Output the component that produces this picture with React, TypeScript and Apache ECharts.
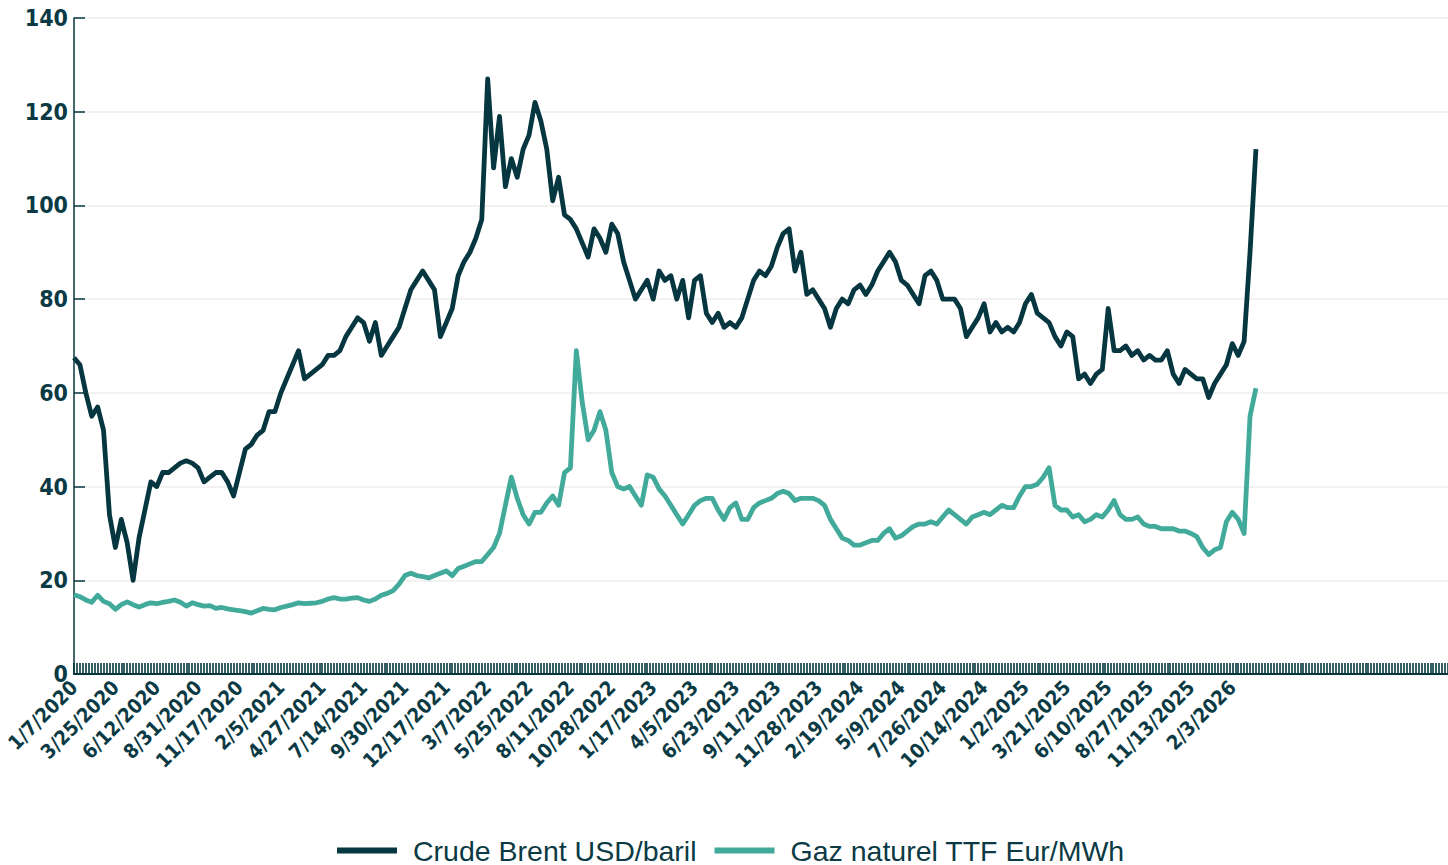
import React, { useEffect, useRef } from "react";
import * as echarts from "echarts";

// Visible tick labels of the category axis (one every LABEL_STEP trading days)
const labelDates = [
  "1/7/2020", "3/25/2020", "6/12/2020", "8/31/2020", "11/17/2020", "2/5/2021",
  "4/27/2021", "7/14/2021", "9/30/2021", "12/17/2021", "3/7/2022", "5/25/2022",
  "8/11/2022", "10/28/2022", "1/17/2023", "4/5/2023", "6/23/2023", "9/11/2023",
  "11/28/2023", "2/19/2024", "5/9/2024", "7/26/2024", "10/14/2024", "1/2/2025",
  "3/21/2025", "6/10/2025", "8/27/2025", "11/13/2025", "2/3/2026",
];
const LABEL_STEP = 56; // trading days between two visible labels
const SAMPLE_STEP = 8; // trading days between two read values
const CATEGORY_COUNT = 1861; // axis length (rows of the sheet, incl. empty ones)

// Crude Brent USD/baril, one value every SAMPLE_STEP trading days from 1/7/2020
const brent = [
  67.5, 66, 60, 55, 57, 52, 34, 27, 33, 28,
  20, 29, 35, 41, 40, 43, 43, 44, 45, 45.5,
  45, 44, 41, 42, 43, 43, 41, 38, 43, 48,
  49, 51, 52, 56, 56, 60, 63, 66, 69, 63,
  64, 65, 66, 68, 68, 69, 72, 74, 76, 75,
  71, 75, 68, 70, 72, 74, 78, 82, 84, 86,
  84, 82, 72, 75, 78, 85, 88, 90, 93, 97,
  127, 108, 119, 104, 110, 106, 112, 115, 122, 118,
  112, 101, 106, 98, 97, 95, 92, 89, 95, 93,
  90, 96, 94, 88, 84, 80, 82, 84, 80, 86,
  84, 85, 80, 84, 76, 84, 85, 77, 75, 77,
  74, 75, 74, 76, 80, 84, 86, 85, 87, 91,
  94, 95, 86, 90, 81, 82, 80, 78, 74, 78,
  80, 79, 82, 83, 81, 83, 86, 88, 90, 88,
  84, 83, 81, 79, 85, 86, 84, 80, 80, 80,
  78, 72, 74, 76, 79, 73, 75, 73, 74, 73,
  75, 79, 81, 77, 76, 75, 72, 70, 73, 72,
  63, 64, 62, 64, 65, 78, 69, 69, 70, 68,
  69, 67, 68, 67, 67, 69, 64, 62, 65, 64,
  63, 63, 59, 62, 64, 66, 70.5, 68, 71, 90,
  112,
];

// Gaz naturel TTF Eur/MWh, same sampling
const ttf = [
  16.9, 16.5, 15.8, 15.3, 16.8, 15.5, 15, 13.8, 14.8, 15.4,
  14.8, 14.3, 14.8, 15.2, 15, 15.3, 15.5, 15.8, 15.3, 14.5,
  15.2, 14.8, 14.5, 14.6, 14, 14.2, 13.9, 13.7, 13.5, 13.3,
  13, 13.5, 14, 13.8, 13.7, 14.2, 14.5, 14.8, 15.2, 15,
  15.1, 15.2, 15.5, 16, 16.3, 16, 16, 16.2, 16.3, 15.8,
  15.5, 16, 16.8, 17.2, 17.8, 19.2, 21, 21.5, 21, 20.8,
  20.5, 21, 21.5, 22, 21, 22.5, 23, 23.5, 24, 24,
  25.5, 27, 30, 36, 42, 37.5, 34, 32, 34.5, 34.5,
  36.5, 38, 36, 43, 44, 69, 58, 50, 52, 56,
  52, 43, 40, 39.5, 40, 38, 36, 42.5, 42, 39.5,
  38, 36, 34, 32, 34, 36, 37, 37.5, 37.5, 35,
  33, 35.5, 36.5, 33, 33, 35.5, 36.5, 37, 37.5, 38.5,
  39, 38.5, 37, 37.5, 37.5, 37.5, 37, 36, 33, 31,
  29, 28.5, 27.5, 27.5, 28, 28.5, 28.5, 30, 31, 29,
  29.5, 30.5, 31.5, 32, 32, 32.5, 32, 33.5, 35, 34,
  33, 32, 33.5, 34, 34.5, 34, 35, 36, 35.5, 35.5,
  38, 40, 40, 40.5, 42, 44, 36, 35, 35, 33.5,
  34, 32.5, 33, 34, 33.5, 35, 37, 34, 33, 33,
  33.5, 32, 31.5, 31.5, 31, 31, 31, 30.5, 30.5, 30,
  29.3, 27, 25.5, 26.5, 27, 32.5, 34.5, 33, 30, 55,
  61,
];

const yTicks = { min: 0, max: 140, interval: 20 };

const DARK = "#06363f";
const TEAL = "#42aa9a";
const TEXT = "#0b3a44";

function parseDate(s: string) {
  const [m, d, y] = s.split("/").map(Number);
  return new Date(Date.UTC(y, m - 1, d));
}
function fmtDate(dt: Date) {
  return `${dt.getUTCMonth() + 1}/${dt.getUTCDate()}/${dt.getUTCFullYear()}`;
}
function addWeekdays(start: Date, n: number) {
  const dt = new Date(start.getTime());
  let left = n;
  while (left > 0) {
    dt.setUTCDate(dt.getUTCDate() + 1);
    const wd = dt.getUTCDay();
    if (wd !== 0 && wd !== 6) left--;
  }
  return dt;
}

function buildCategories() {
  const out: string[] = [];
  const last = labelDates.length - 1;
  for (let i = 0; i < CATEGORY_COUNT; i++) {
    const block = Math.min(Math.floor(i / LABEL_STEP), last);
    const off = i - block * LABEL_STEP;
    const base = parseDate(labelDates[block]);
    out.push(off === 0 ? labelDates[block] : fmtDate(addWeekdays(base, off)));
  }
  return out;
}

export default function App() {
  const ref = useRef<HTMLDivElement>(null);
  useEffect(() => {
    if (!ref.current) return;
    const chart = echarts.init(ref.current, null, { renderer: "svg" });
    const categories = buildCategories();
    const lastDataIndex = (brent.length - 1) * SAMPLE_STEP;
    const toPairs = (arr: number[]) => arr.map((v, k) => [k * SAMPLE_STEP, v]);
    const axisFont = "'DejaVu Sans Condensed', 'Liberation Sans Narrow', 'Roboto Condensed', sans-serif";

    chart.setOption({
      animation: false,
      backgroundColor: "#ffffff",
      grid: {
        left: 74,
        right: 0,
        top: 18,
        bottom: 191,
        containLabel: false,
        outerBoundsMode: "none",
      },
      legend: {
        left: 332,
        top: 831,
        icon: "rect",
        itemWidth: 60,
        itemHeight: 6,
        itemGap: 18,
        textStyle: {
          fontFamily: "'Liberation Sans', Arial, sans-serif",
          fontSize: 28.5,
          color: TEXT,
          padding: [0, 0, 0, 11],
        },
        data: ["Crude Brent USD/baril", "Gaz naturel TTF Eur/MWh"],
      },
      xAxis: {
        type: "category",
        data: categories,
        boundaryGap: false,
        axisLine: { show: true, lineStyle: { color: DARK, width: 2 } },
        axisTick: {
          show: true,
          inside: true,
          length: 11,
          interval: 3,
          lineStyle: { color: DARK, width: 1.6 },
        },
        axisLabel: {
          interval: LABEL_STEP - 1,
          rotate: 45,
          margin: 10,
          fontFamily: axisFont,
          fontSize: 20,
          fontWeight: "bold",
          color: TEXT,
          formatter: (value: string, index: number) => (index > lastDataIndex ? "" : value),
        },
        splitLine: { show: false },
      },
      yAxis: {
        type: "value",
        min: yTicks.min,
        max: yTicks.max,
        interval: yTicks.interval,
        axisLine: { show: true, lineStyle: { color: DARK, width: 1.5 } },
        axisTick: { show: true, inside: true, length: 11, lineStyle: { color: DARK, width: 1.5 } },
        axisLabel: {
          margin: 6,
          fontFamily: axisFont,
          fontSize: 23,
          fontWeight: "bold",
          color: TEXT,
        },
        splitLine: { show: true, lineStyle: { color: "#eeeeee", width: 1.5 } },
      },
      series: [
        {
          name: "Crude Brent USD/baril",
          type: "line",
          data: toPairs(brent),
          showSymbol: false,
          symbol: "none",
          lineStyle: { color: DARK, width: 4.8, join: "round" },
          itemStyle: { color: DARK },
        },
        {
          name: "Gaz naturel TTF Eur/MWh",
          type: "line",
          data: toPairs(ttf),
          showSymbol: false,
          symbol: "none",
          lineStyle: { color: TEAL, width: 4.8, join: "round" },
          itemStyle: { color: TEAL },
        },
      ],
    });
    return () => chart.dispose();
  }, []);
  return (
    <div
      ref={ref}
      style={{ position: "fixed", left: 0, top: 0, width: 1448, height: 865 }}
    />
  );
}
